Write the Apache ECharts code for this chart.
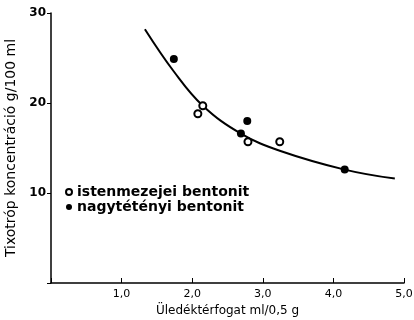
<!DOCTYPE html>
<html>
<head>
<meta charset="utf-8">
<script src="https://cdn.jsdelivr.net/npm/echarts@6/dist/echarts.min.js"></script>
<style>
  html, body { margin: 0; padding: 0; background: #fff; }
  #chart { width: 414px; height: 320px; }
</style>
</head>
<body>
<div id="chart"></div>
<script>
// measured points (sediment volume ml/0.5g, thixotropic conc. g/100ml)
const istenmezejeiX = [2.15, 2.08, 2.79, 3.24];
const istenmezejeiY = [19.7, 18.8, 15.7, 15.7];
const nagytetenyiX = [1.74, 2.78, 2.69, 4.16];
const nagytetenyiY = [24.9, 18.0, 16.6, 12.6];
// fitted curve
const curveX = [1.33, 1.74, 2.15, 2.69, 3.24, 4.16, 4.87];
const curveY = [28.2, 23.5, 19.7, 16.6, 14.7, 12.6, 11.6];

const seriesNames = ['istenmezejei bentonit', 'nagytétényi bentonit'];
const xTicks = [0, 1, 2, 3, 4, 5];
const yTicks = [0, 10, 20, 30];

const zip = (xs, ys) => xs.map((x, i) => [x, ys[i]]);
const font = 'DejaVu Sans';

const chart = echarts.init(document.getElementById('chart'));
chart.setOption({
  animation: false,
  backgroundColor: '#fff',
  grid: { left: 51, right: 10, top: 13, bottom: 37, outerBoundsMode: 'none' },
  legend: {
    orient: 'vertical',
    left: 60,
    top: 180,
    itemWidth: 6,
    itemHeight: 6,
    itemGap: 1,
    data: [
      { name: seriesNames[0], itemStyle: { borderWidth: 1 } },
      { name: seriesNames[1] }
    ],
    textStyle: { color: '#000', fontFamily: font, fontSize: 14, fontWeight: 'bold' }
  },
  xAxis: {
    type: 'value',
    min: xTicks[0],
    max: xTicks[xTicks.length - 1],
    interval: 1,
    name: 'Üledéktérfogat ml/0,5 g',
    nameLocation: 'middle',
    nameGap: 22,
    nameTextStyle: { color: '#000', fontFamily: font, fontSize: 12 },
    axisLine: { lineStyle: { color: '#000', width: 1.5 } },
    axisTick: { inside: true, length: 5, lineStyle: { color: '#000' } },
    axisLabel: {
      color: '#000', fontFamily: font, fontSize: 11, margin: 6,
      formatter: v => v === 0 ? '' : v.toFixed(1).replace('.', ',')
    },
    splitLine: { show: false }
  },
  yAxis: {
    type: 'value',
    min: yTicks[0],
    max: yTicks[yTicks.length - 1],
    interval: 10,
    name: 'Tixotróp koncentráció g/100 ml',
    nameLocation: 'middle',
    nameGap: 33,
    nameTextStyle: { color: '#000', fontFamily: font, fontSize: 14 },
    axisLine: { lineStyle: { color: '#000', width: 1.5 } },
    axisTick: { length: 4, lineStyle: { color: '#000' } },
    axisLabel: {
      color: '#000', fontFamily: font, fontSize: 12, fontWeight: 'bold', margin: 5,
      formatter: v => v === 0 ? '' : String(v)
    },
    splitLine: { show: false }
  },
  series: [
    {
      type: 'line',
      data: zip(curveX, curveY),
      smooth: 0.4,
      showSymbol: false,
      lineStyle: { color: '#000', width: 2 },
      silent: true
    },
    {
      name: seriesNames[0],
      type: 'scatter',
      symbol: 'emptyCircle',
      symbolSize: 7,
      itemStyle: { color: '#000', borderColor: '#000', borderWidth: 1.3, opacity: 1 },
      data: zip(istenmezejeiX, istenmezejeiY),
      z: 3
    },
    {
      name: seriesNames[1],
      type: 'scatter',
      symbol: 'circle',
      symbolSize: 8,
      itemStyle: { color: '#000', opacity: 1 },
      data: zip(nagytetenyiX, nagytetenyiY),
      z: 3
    }
  ]
});
</script>
</body>
</html>
